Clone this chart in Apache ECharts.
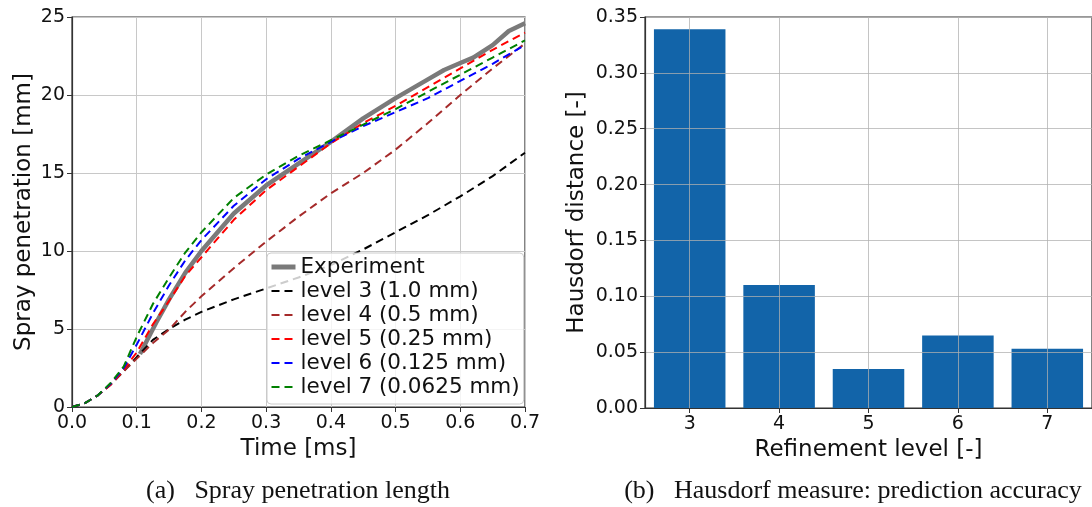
<!DOCTYPE html>
<html><head><meta charset="utf-8">
<script src="https://cdn.jsdelivr.net/npm/echarts@6/dist/echarts.min.js"></script>
<style>html,body{margin:0;padding:0;background:#fff}#c{width:1092px;height:507px}</style>
</head><body><div id="c"></div>
<script>
// ---- Data: (a) spray penetration ----
const simTime = [0, 0.02, 0.04, 0.06, 0.08, 0.1, 0.125, 0.15, 0.175, 0.2, 0.25, 0.3, 0.35, 0.4, 0.45, 0.5, 0.55, 0.6, 0.65, 0.7];
const level3 = [0, 0.25, 0.75, 1.45, 2.3, 3.2, 4.3, 5.0, 5.6, 6.1, 6.9, 7.6, 8.3, 9.1, 10.1, 11.2, 12.3, 13.5, 14.8, 16.3];
const level4 = [0, 0.25, 0.75, 1.45, 2.3, 3.1, 4.1, 4.96, 6.1, 7.1, 8.9, 10.6, 12.2, 13.7, 15.0, 16.5, 18.2, 20.0, 21.7, 23.3];
const level5 = [0, 0.25, 0.75, 1.45, 2.4, 3.5, 5.3, 6.8, 8.4, 9.6, 12.0, 13.9, 15.4, 16.9, 18.2, 19.3, 20.5, 21.7, 22.9, 24.0];
const level6 = [0, 0.25, 0.75, 1.5, 2.5, 4.0, 6.0, 7.8, 9.4, 10.7, 12.9, 14.6, 15.9, 17.0, 18.0, 18.9, 19.8, 20.9, 22.0, 23.2];
const level7 = [0, 0.25, 0.75, 1.55, 2.6, 4.5, 6.6, 8.3, 9.9, 11.2, 13.4, 14.9, 16.1, 17.1, 18.1, 19.1, 20.2, 21.3, 22.4, 23.5];
const expTime = [0.105, 0.115, 0.13, 0.15, 0.175, 0.2, 0.25, 0.3, 0.35, 0.4, 0.45, 0.5, 0.55, 0.575, 0.6, 0.62, 0.65, 0.675, 0.7];
const experiment = [3.4, 4.2, 5.4, 6.9, 8.6, 10.0, 12.4, 14.2, 15.6, 17.0, 18.5, 19.8, 21.0, 21.6, 22.05, 22.4, 23.2, 24.1, 24.6];
const seriesNames = ['Experiment', 'level 3 (1.0 mm)', 'level 4 (0.5 mm)', 'level 5 (0.25 mm)', 'level 6 (0.125 mm)', 'level 7 (0.0625 mm)'];
// ---- Data: (b) Hausdorf measure ----
const refinementLevels = ['3', '4', '5', '6', '7'];
const hausdorf = [0.339, 0.110, 0.035, 0.065, 0.053];
// ---- Captions ----
const captionA = '(a)   Spray penetration length';
const captionB = '(b)   Hausdorf measure: prediction accuracy';

const FONT = 'DejaVu Sans';
const gridColor = '#c8c8c8';
const axisColor = '#333';
const pair = (xs, ys) => xs.map((x, i) => [x, ys[i]]);

const dashed = (name, color, vals) => ({
  name, type: 'line', xAxisIndex: 0, yAxisIndex: 0,
  data: pair(simTime, vals), showSymbol: false, symbol: 'none',
  smooth: false,
  lineStyle: { color, width: 2, type: [8, 5] }, itemStyle: { color }
});

const legendData = seriesNames.map((n, i) => i === 0
  ? { name: n, lineStyle: { width: 5, color: '#7a7a7a', type: 'solid' } }
  : { name: n });

const chart = echarts.init(document.getElementById('c'), null, { renderer: 'canvas' });
chart.setOption({
  animation: false,
  backgroundColor: '#fff',
  textStyle: { fontFamily: FONT },
  grid: [
    { left: 72, top: 17, width: 453, height: 390, show: true, borderColor: axisColor, borderWidth: 1.2, backgroundColor: 'transparent' },
    { left: 645, top: 17, width: 451, height: 391, show: true, borderColor: axisColor, borderWidth: 1.2, backgroundColor: 'transparent' }
  ],
  xAxis: [
    {
      gridIndex: 0, type: 'value', min: 0, max: 0.7, interval: 0.1,
      name: 'Time [ms]', nameLocation: 'middle', nameGap: 28,
      nameTextStyle: { fontSize: 23, color: '#111', fontFamily: FONT },
      axisLine: { show: true, lineStyle: { color: axisColor, width: 1.2 } },
      axisTick: { show: true, length: 5, lineStyle: { color: axisColor } },
      axisLabel: { fontSize: 19, color: '#111', margin: 7, formatter: v => v.toFixed(1), fontFamily: FONT },
      splitLine: { show: true, lineStyle: { color: gridColor, width: 1 } }
    },
    {
      gridIndex: 1, type: 'category', data: refinementLevels, boundaryGap: true,
      name: 'Refinement level [-]', nameLocation: 'middle', nameGap: 28,
      nameTextStyle: { fontSize: 23, color: '#111', fontFamily: FONT },
      axisLine: { show: true, lineStyle: { color: axisColor, width: 1.2 } },
      axisTick: { show: true, length: 5, alignWithLabel: true, lineStyle: { color: axisColor } },
      axisLabel: { fontSize: 19, color: '#111', margin: 7, fontFamily: FONT },
      splitLine: { show: true, alignWithLabel: true, lineStyle: { color: 'rgba(176,176,176,0.75)', width: 1 } },
      z: 5
    }
  ],
  yAxis: [
    {
      gridIndex: 0, type: 'value', min: 0, max: 25, interval: 5,
      name: 'Spray penetration [mm]', nameLocation: 'middle', nameGap: 36,
      nameTextStyle: { fontSize: 23, color: '#111', fontFamily: FONT },
      axisLine: { show: true, lineStyle: { color: axisColor, width: 1.2 } },
      axisTick: { show: true, length: 5, lineStyle: { color: axisColor } },
      axisLabel: { fontSize: 19, color: '#111', margin: 7, fontFamily: FONT },
      splitLine: { show: true, lineStyle: { color: gridColor, width: 1 } }
    },
    {
      gridIndex: 1, type: 'value', min: 0, max: 0.35, interval: 0.05,
      name: 'Hausdorf distance [-]', nameLocation: 'middle', nameGap: 56,
      nameTextStyle: { fontSize: 23, color: '#111', fontFamily: FONT },
      axisLine: { show: true, lineStyle: { color: axisColor, width: 1.2 } },
      axisTick: { show: true, length: 5, lineStyle: { color: axisColor } },
      axisLabel: { fontSize: 19, color: '#111', margin: 7, formatter: v => v.toFixed(2), fontFamily: FONT },
      splitLine: { show: true, lineStyle: { color: 'rgba(176,176,176,0.75)', width: 1 } },
      z: 5
    }
  ],
  legend: {
    data: legendData,
    orient: 'vertical', left: 267, top: 253,
    backgroundColor: 'rgba(255,255,255,0.8)', borderColor: '#ccc', borderWidth: 1, borderRadius: 4,
    padding: [3, 4, 6, 2], itemGap: 2, itemWidth: 24, itemHeight: 10,
    itemStyle: { opacity: 0 },
    textStyle: { fontSize: 21.5, color: '#111', fontFamily: FONT, lineHeight: 22 }
  },
  series: [
    {
      name: seriesNames[0], type: 'line', xAxisIndex: 0, yAxisIndex: 0,
      data: pair(expTime, experiment), showSymbol: false, symbol: 'none',
      smooth: false,
      lineStyle: { color: '#7a7a7a', width: 4.5 }, itemStyle: { color: '#7a7a7a' }, z: 1
    },
    dashed(seriesNames[1], '#000000', level3),
    dashed(seriesNames[2], '#a52a2a', level4),
    dashed(seriesNames[3], '#ff0000', level5),
    dashed(seriesNames[4], '#0000ff', level6),
    dashed(seriesNames[5], '#008000', level7),
    {
      name: 'Hausdorf', type: 'bar', xAxisIndex: 1, yAxisIndex: 1,
      data: hausdorf, barWidth: '80%',
      itemStyle: { color: '#1264a9' }, z: 2
    }
  ],
  graphic: [
    { type: 'text', x: 298, y: 491, style: { text: captionA, font: '26px "Liberation Serif"', fill: '#111', textAlign: 'center', textVerticalAlign: 'middle', align: 'center', verticalAlign: 'middle' } },
    { type: 'text', x: 853, y: 491, style: { text: captionB, font: '26px "Liberation Serif"', fill: '#111', textAlign: 'center', textVerticalAlign: 'middle', align: 'center', verticalAlign: 'middle' } }
  ]
});
</script></body></html>
